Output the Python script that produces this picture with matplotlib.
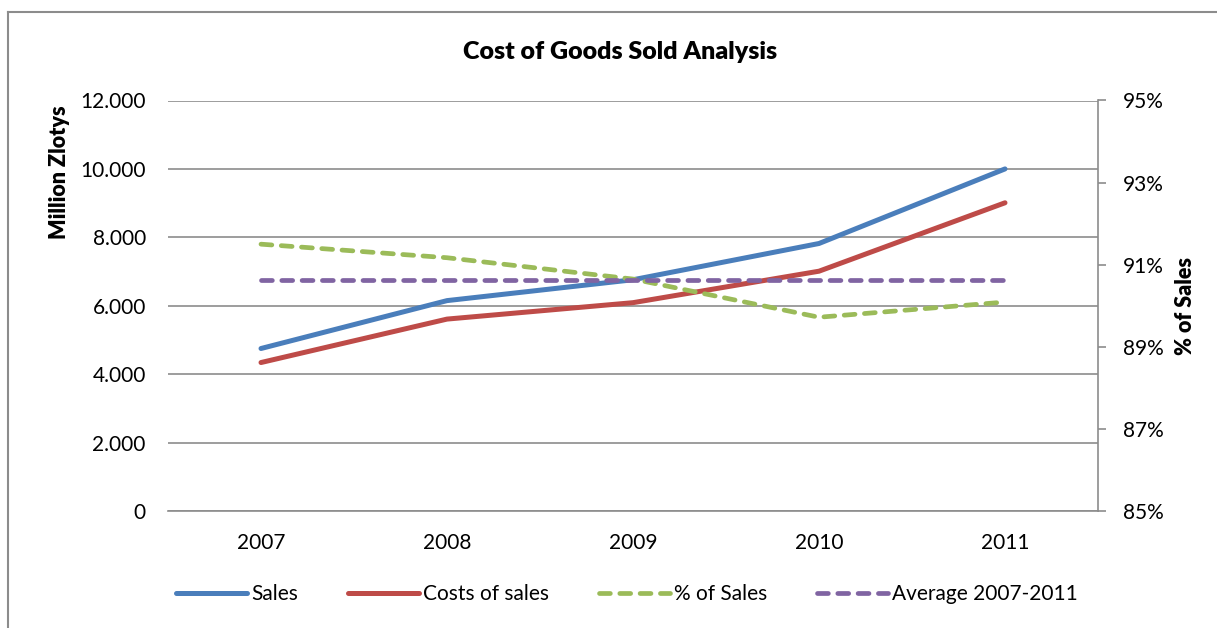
import matplotlib
matplotlib.use("Agg")
from matplotlib import pyplot as plt
from matplotlib.ticker import FuncFormatter
import numpy as np

years = ["2007", "2008", "2009", "2010", "2011"]
sales = [4750, 6150, 6760, 7820, 10000]
costs = [4340, 5610, 6090, 7010, 9010]
pctSales = [91.50, 91.17, 90.65, 89.72, 90.09]
avgPct = [90.63, 90.63, 90.63, 90.63, 90.63]

blue = "#4A7EBB"
red = "#BE4B48"
green = "#9BBB59"
purple = "#8064A2"
gridCol = "#8C8C8C"

plt.rcParams["font.family"] = ["Lato", "DejaVu Sans"]

fig = plt.figure(figsize=(12.17, 6.28), dpi=100)
ax = fig.add_axes([168 / 1217, 117 / 628, 930 / 1217, 410.5 / 628])
ax2 = ax.twinx()

x = np.arange(len(years))
l1, = ax.plot(x, sales, color=blue, lw=3.6, solid_capstyle="round", label="Sales", zorder=3)
l2, = ax.plot(x, costs, color=red, lw=3.6, solid_capstyle="round", label="Costs of sales", zorder=3)
l3, = ax2.plot(x, pctSales, color=green, lw=3.4, dashes=(2.3, 2.0), dash_capstyle="round",
               label="% of Sales")
l4, = ax2.plot(x, avgPct, color=purple, lw=3.4, dashes=(2.3, 2.0), dash_capstyle="round",
               label="Average 2007-2011")

ax.set_xlim(-0.5, 4.5)
ax.set_ylim(0, 12000)
ax.set_yticks(range(0, 12001, 2000))
ax.yaxis.set_major_formatter(FuncFormatter(lambda v, p: f"{int(v):,}".replace(",", ".")))
ax.set_xticks(x)
ax.set_xticklabels(years)
ax.grid(axis="y", color=gridCol, lw=1.2)
ax.set_axisbelow(True)
ax.tick_params(axis="y", length=0, pad=16, labelsize=15)
ax.tick_params(axis="x", length=0, pad=16, labelsize=15)
for s in ["top", "left", "right"]:
    ax.spines[s].set_visible(False)
ax.spines["bottom"].set_color(gridCol)
ax.spines["bottom"].set_linewidth(1.2)

ax2.set_ylim(85, 95)
ax2.set_yticks(range(85, 96, 2))
ax2.yaxis.set_major_formatter(FuncFormatter(lambda v, p: f"{int(v)}%"))
ax2.tick_params(axis="y", length=6, width=1.2, color=gridCol, pad=12, labelsize=15)
for s in ["top", "left", "bottom"]:
    ax2.spines[s].set_visible(False)
ax2.spines["right"].set_color(gridCol)
ax2.spines["right"].set_linewidth(1.2)

ax.set_ylabel("Million Zlotys", fontsize=15.5, fontweight="heavy")
ax.yaxis.set_label_coords(-98 / 930, 0.826)
ax2.set_ylabel("% of Sales", fontsize=15.5, fontweight="heavy", rotation=90)
ax2.yaxis.set_label_coords(1 + 77 / 930, 0.5)

fig.text(620 / 1217, 1 - 52 / 628, "Cost of Goods Sold Analysis", ha="center", va="center",
         fontsize=18, fontweight="heavy")

fig.legend(handles=[l1, l2, l3, l4], loc="center", bbox_to_anchor=(627 / 1217, 1 - 594 / 628),
           ncol=4, frameon=False, fontsize=15, handlelength=3.4, handletextpad=0.2,
           columnspacing=2.4)

# chart frame, only top and left edges show
fig.add_artist(plt.Line2D([8 / 1217, 8 / 1217], [0, 1 - 12 / 628], transform=fig.transFigure,
                          color="#8C8C8C", lw=1.5))
fig.add_artist(plt.Line2D([8 / 1217, 1], [1 - 12 / 628, 1 - 12 / 628], transform=fig.transFigure,
                          color="#8C8C8C", lw=1.5))

fig.savefig("out.png", dpi=100)
